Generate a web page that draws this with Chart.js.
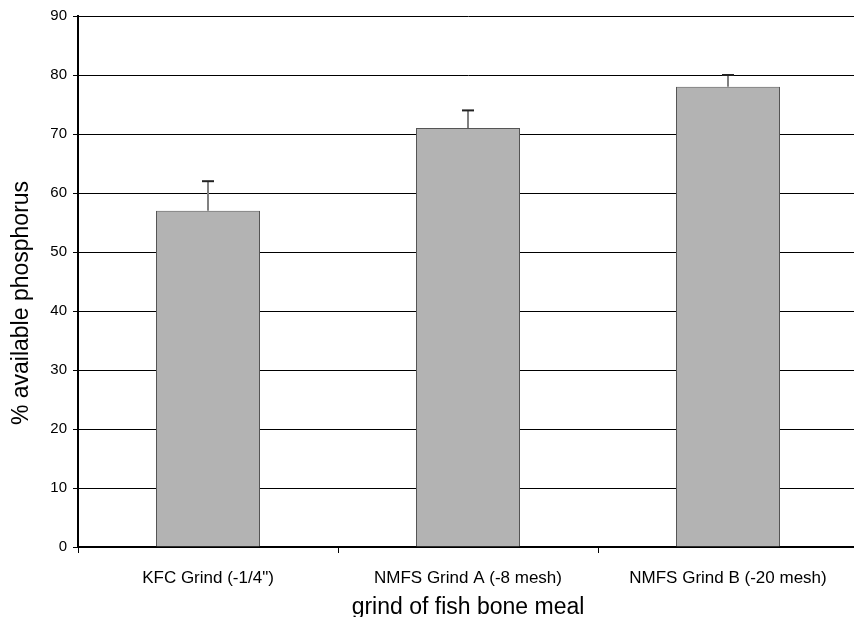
<!DOCTYPE html>
<html><head><meta charset="utf-8">
<script src="https://cdn.jsdelivr.net/npm/chart.js@4/dist/chart.umd.min.js"></script>
<style>html,body{margin:0;padding:0;background:#fff;overflow:hidden}canvas{display:block}</style>
</head><body>
<canvas id="c" width="860" height="621" style="width:860px;height:621px"></canvas>
<script>
const categories = ['KFC Grind (-1/4")', 'NMFS Grind A (-8 mesh)', 'NMFS Grind B (-20 mesh)'];
const values = [57, 71, 78];
const errors = [5, 3, 2];
const yTicks = [0, 10, 20, 30, 40, 50, 60, 70, 80, 90];
const yTitle = '% available phosphorus';

const errPlugin = {
  id: 'err',
  afterDatasetsDraw(chart) {
    const ctx = chart.ctx, meta = chart.getDatasetMeta(0), y = chart.scales.y;
    ctx.save();
    meta.data.forEach((bar, i) => {
      const x = Math.round(bar.x);
      const y0 = y.getPixelForValue(values[i]);
      const y1 = y.getPixelForValue(values[i] + errors[i]);
      ctx.strokeStyle = '#808080'; ctx.lineWidth = 2;
      ctx.beginPath(); ctx.moveTo(x, y0); ctx.lineTo(x, y1); ctx.stroke();
      ctx.strokeStyle = '#222'; ctx.lineWidth = 2;
      ctx.beginPath(); ctx.moveTo(x - 6, y1); ctx.lineTo(x + 6, y1); ctx.stroke();
    });
    ctx.restore();
  },
  afterDraw(chart) {
    const ctx = chart.ctx;
    ctx.save();
    ctx.translate(22, 303);
    ctx.rotate(-Math.PI / 2);
    ctx.fillStyle = '#000';
    ctx.font = '23px "Liberation Sans"';
    ctx.textAlign = 'center';
    ctx.textBaseline = 'middle';
    ctx.fillText(yTitle, 0, 0);
    ctx.restore();
  }
};

new Chart(document.getElementById('c'), {
  type: 'bar',
  data: { labels: categories, datasets: [{ data: values, backgroundColor: '#b3b3b3', borderColor: '#555', borderWidth: 1, categoryPercentage: 1, barPercentage: 0.4 }] },
  options: {
    responsive: false, animation: false, devicePixelRatio: 1,
    layout: { padding: { top: 16, right: 2, left: 0, bottom: 0 } },
    plugins: { legend: { display: false }, tooltip: { enabled: false } },
    scales: {
      x: {
        grid: { drawOnChartArea: false, drawTicks: true, tickLength: 6, color: '#000', offset: true },
        border: { color: '#000', width: 2 },
        ticks: { color: '#000', font: { family: 'Liberation Sans', size: 17 }, padding: 15, maxRotation: 0 },
        title: { display: true, text: 'grind of fish bone meal', color: '#000', font: { family: 'Liberation Sans', size: 23 }, padding: { top: 2, bottom: 0 } },
        afterFit(s) { s.height = 74; }
      },
      y: {
        min: 0, max: 90,
        afterBuildTicks(s) { s.ticks = yTicks.map(v => ({ value: v })); },
        grid: { color: '#000', lineWidth: 1, tickLength: 5 },
        border: { color: '#000', width: 2 },
        ticks: { color: '#000', font: { family: 'Liberation Sans', size: 15 }, padding: 6 },
        afterFit(s) { s.width = 78; }
      }
    }
  },
  plugins: [errPlugin]
});
</script>
</body></html>
